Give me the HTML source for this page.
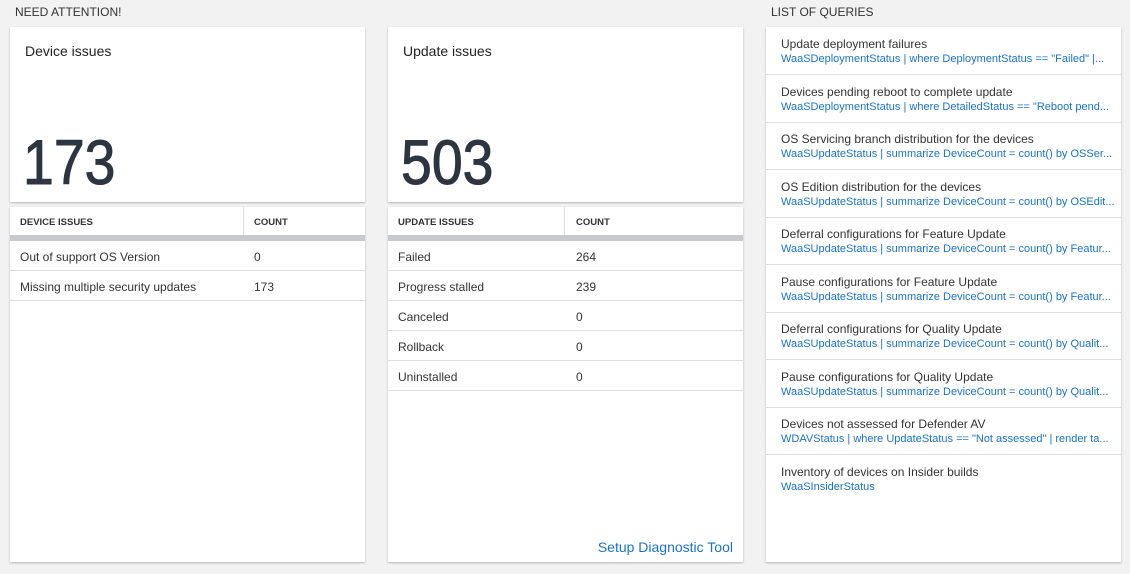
<!DOCTYPE html><html><head><style>
body{margin:0;width:1130px;height:574px;background:#f2f2f2;font-family:"Liberation Sans",sans-serif;position:relative;overflow:hidden;color:#333}
.h{position:absolute;top:5px;font-size:12px;color:#333}
.card{position:absolute;background:#fff;box-shadow:0 1px 2px rgba(0,0,0,.25)}
.t{position:absolute;left:15px;top:16px;font-size:14px;color:#222}
.big{position:absolute;left:13px;top:101px;font-size:63px;color:#2d3540;line-height:70px;transform:scaleX(0.88);transform-origin:left;-webkit-text-stroke:1px #2d3540}
.th{position:absolute;top:0;height:28px;left:0;right:0;font-size:9.5px;font-weight:bold;color:#333}
.th span{position:absolute;top:10px}
.bar{position:absolute;top:28px;height:6px;left:0;right:0;background:#c8c9cc}
.row{position:absolute;left:0;right:0;height:29px;border-bottom:1px solid #ddd;font-size:12px;color:#333}
.row span{position:absolute;top:9px}
.q{position:absolute;left:0;right:0;height:47px;border-bottom:1px solid #ddd}
.q .a{position:absolute;left:15px;top:10px;font-size:12px;color:#333;white-space:nowrap}
.q .b{position:absolute;left:15px;top:26px;font-size:11px;color:#1a73c8;white-space:nowrap}
</style></head><body>
<div class="h" style="left:15px">NEED ATTENTION!</div>
<div class="h" style="left:771px">LIST OF QUERIES</div>
<div class="card" style="left:10px;top:27px;width:355px;height:175px"><div class="t">Device issues</div><div class="big">173</div></div>
<div class="card" style="left:388px;top:27px;width:355px;height:175px"><div class="t">Update issues</div><div class="big">503</div></div>
<div class="card" style="left:10px;top:207px;width:355px;height:355px">
<div class="th"><span style="left:10px">DEVICE ISSUES</span><span style="left:244px">COUNT</span><div style="position:absolute;left:233px;top:0;width:1px;height:28px;background:#ddd"></div></div><div class="bar"></div>
<div class="row" style="top:34px"><span style="left:10px">Out of support OS Version</span><span style="left:244px">0</span></div>
<div class="row" style="top:64px"><span style="left:10px">Missing multiple security updates</span><span style="left:244px">173</span></div>
</div>
<div class="card" style="left:388px;top:207px;width:355px;height:355px">
<div class="th"><span style="left:10px">UPDATE ISSUES</span><span style="left:188px">COUNT</span><div style="position:absolute;left:176px;top:0;width:1px;height:28px;background:#ddd"></div></div><div class="bar"></div>
<div class="row" style="top:34px"><span style="left:10px">Failed</span><span style="left:188px">264</span></div>
<div class="row" style="top:64px"><span style="left:10px">Progress stalled</span><span style="left:188px">239</span></div>
<div class="row" style="top:94px"><span style="left:10px">Canceled</span><span style="left:188px">0</span></div>
<div class="row" style="top:124px"><span style="left:10px">Rollback</span><span style="left:188px">0</span></div>
<div class="row" style="top:154px"><span style="left:10px">Uninstalled</span><span style="left:188px">0</span></div>
<div style="position:absolute;right:10px;top:332px;font-size:14px;color:#1a73c8">Setup Diagnostic Tool</div>
</div>
<div class="card" style="left:766px;top:27px;width:355px;height:535px">
<div class="q" style="top:0"><div class="a">Update deployment failures</div><div class="b">WaaSDeploymentStatus | where DeploymentStatus == "Failed" |...</div></div>
<div class="q" style="top:47.5px"><div class="a">Devices pending reboot to complete update</div><div class="b">WaaSDeploymentStatus | where DetailedStatus == "Reboot pend...</div></div>
<div class="q" style="top:95px"><div class="a">OS Servicing branch distribution for the devices</div><div class="b">WaaSUpdateStatus | summarize DeviceCount = count() by OSSer...</div></div>
<div class="q" style="top:142.5px"><div class="a">OS Edition distribution for the devices</div><div class="b">WaaSUpdateStatus | summarize DeviceCount = count() by OSEdit...</div></div>
<div class="q" style="top:190px"><div class="a">Deferral configurations for Feature Update</div><div class="b">WaaSUpdateStatus | summarize DeviceCount = count() by Featur...</div></div>
<div class="q" style="top:237.5px"><div class="a">Pause configurations for Feature Update</div><div class="b">WaaSUpdateStatus | summarize DeviceCount = count() by Featur...</div></div>
<div class="q" style="top:285px"><div class="a">Deferral configurations for Quality Update</div><div class="b">WaaSUpdateStatus | summarize DeviceCount = count() by Qualit...</div></div>
<div class="q" style="top:332.5px"><div class="a">Pause configurations for Quality Update</div><div class="b">WaaSUpdateStatus | summarize DeviceCount = count() by Qualit...</div></div>
<div class="q" style="top:380px"><div class="a">Devices not assessed for Defender AV</div><div class="b">WDAVStatus | where UpdateStatus == "Not assessed" | render ta...</div></div>
<div class="q" style="top:427.5px;border:none"><div class="a">Inventory of devices on Insider builds</div><div class="b">WaaSInsiderStatus</div></div>
</div>
</body></html>
